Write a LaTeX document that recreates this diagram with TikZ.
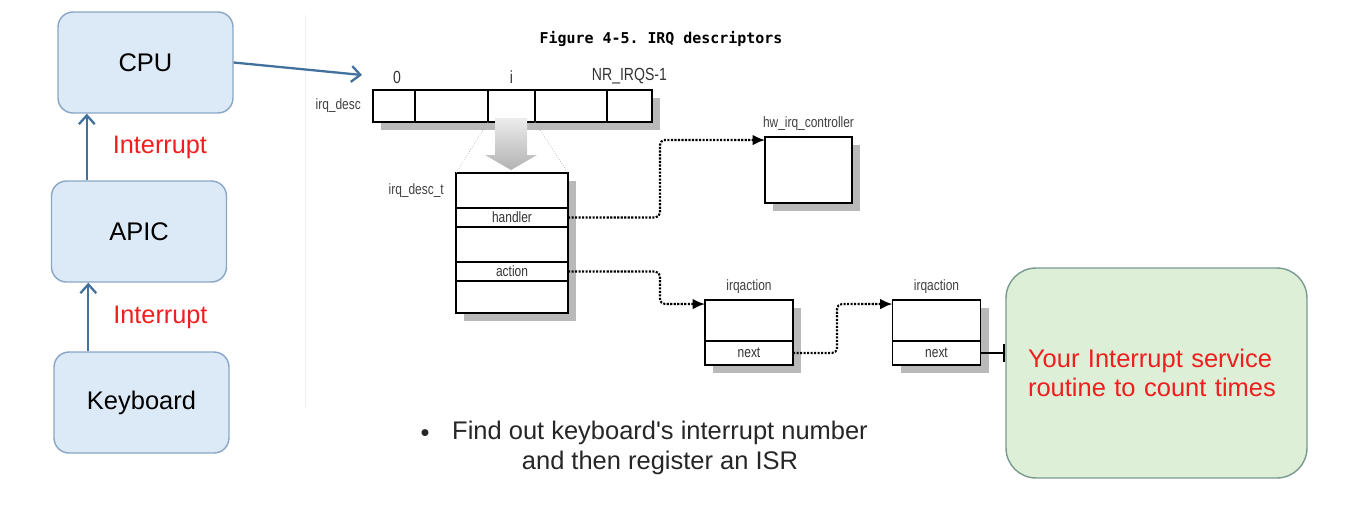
\documentclass[tikz,border=0pt]{standalone}
\usepackage{fontspec}
\setmainfont{Liberation Sans}
\newfontfamily\figfont[FakeStretch=0.8]{Liberation Sans}
\newfontfamily\capfont{DejaVu Sans Mono}
\usetikzlibrary{arrows.meta,backgrounds}
\definecolor{slidefill}{HTML}{DCE9F6}
\definecolor{slideline}{HTML}{8AA6C6}
\definecolor{flowblue}{HTML}{41719C}
\definecolor{irqred}{HTML}{F01E1E}
\definecolor{isrfill}{HTML}{DDEFD6}
\definecolor{isrline}{HTML}{7A9A90}

\begin{document}
\begin{tikzpicture}[x=0.02cm,y=-0.02cm,
    slidebox/.style={draw=slideline,fill=slidefill,rounded corners=0.3cm,line width=0.8pt,
      minimum width=3.5cm,minimum height=2.02cm,font=\fontsize{14.5}{17}\selectfont},
    upflow/.style={flowblue,line width=1.3pt,-{Straight Barb[length=5pt,width=9pt]}},
    irqtext/.style={text=irqred,font=\fontsize{14.4}{17}\selectfont},
    cellbox/.style={draw,fill=white,line width=1pt,minimum height=0.64cm,inner sep=0pt,outer sep=0pt},
    rowbox/.style={draw,fill=white,line width=0.8pt,minimum width=2.24cm,inner sep=0pt,outer sep=0pt,
      font=\figfont\fontsize{8.5}{10}\selectfont,text=black!80},
    figlabel/.style={font=\figfont\fontsize{8.5}{10}\selectfont,text=black!75},
    idxlabel/.style={font=\figfont\fontsize{10}{12}\selectfont,text=black!80},
    dotlink/.style={line width=1.2pt,dash pattern=on 1.2pt off 0.8pt,rounded corners=0.1cm,
      -{Latex[length=7pt,width=6pt]}},
    isrbox/.style={draw=isrline,fill=isrfill,rounded corners=0.6cm,line width=0.8pt,
      minimum width=6.02cm,minimum height=4.2cm,text width=5.14cm,align=left,text=irqred,
      font=\fontsize{14.5}{16.5}\selectfont}]
  \useasboundingbox (0,0) rectangle (1353,505);
  \draw[gray!12] (305,15) -- (305,408);

  \node[slidebox] (cpu) at (145.5,62.5) {CPU};
  \node[slidebox] (apic) at (139,231.5) {APIC};
  \node[slidebox] (kbd) at (141.5,402.5) {Keyboard};
  \draw[upflow] ([xshift=0.72cm]apic.north west) coordinate (up1)
    -- node[right=0.38cm,irqtext] (int1) {Interrupt} (up1 |- cpu.south);
  \draw[upflow] ([xshift=0.70cm]kbd.north west) coordinate (up2)
    -- node[right=0.36cm,irqtext] (int2) {Interrupt} (up2 |- apic.south);
  \coordinate (descin) at (362,75);
  \draw[upflow] (cpu.east) -- (descin);

  \node[font=\capfont\bfseries\fontsize{8.5}{10}\selectfont] (title) at (661,39) {Figure 4-5.~IRQ descriptors};

  \node[cellbox,minimum width=0.84cm] (c0) at (394,106) {};
  \node[cellbox,minimum width=1.46cm,anchor=west] (c1) at (c0.east) {};
  \node[cellbox,minimum width=0.94cm,anchor=west] (ci) at (c1.east) {};
  \node[cellbox,minimum width=1.44cm,anchor=west] (c3) at (ci.east) {};
  \node[cellbox,minimum width=0.90cm,anchor=west] (cn) at (c3.east) {};
  \node[idxlabel,above] (lab0) at ([xshift=0.06cm]c0.north) {0};
  \node[idxlabel,above] (labi) at (ci.north) {i};
  \node[idxlabel,above] (labn) at (cn.north) {NR\_IRQS-1};
  \node[figlabel,left=0.12cm] (desclab) at (c0.west) {irq\_desc};

  \node[rowbox,minimum height=0.70cm] (dtop) at (512,190.5) {};
  \node[rowbox,minimum height=0.38cm,anchor=north] (handler) at (dtop.south) {handler};
  \node[rowbox,minimum height=0.70cm,anchor=north] (dmid) at (handler.south) {};
  \node[rowbox,minimum height=0.38cm,anchor=north] (action) at (dmid.south) {action};
  \node[rowbox,minimum height=0.64cm,anchor=north] (dbot) at (action.south) {};
  \node[figlabel,left=0.12cm] (dtlab) at (dtop.west) {irq\_desc\_t};
  \draw[gray!60,densely dotted] (ci.south west) -- (dtop.north west);
  \draw[gray!60,densely dotted] (ci.south east) -- (dtop.north east);
  \shade[top color=gray!15,bottom color=gray!60]
    (495,118) -- (527,118) -- (527,155) -- (537,155) -- (511,170) -- (485,155) -- (495,155) -- cycle;

  \node[rowbox,minimum width=1.74cm,minimum height=1.32cm] (hwc) at (808.5,170) {};
  \node[figlabel,above] (hwlab) at (hwc.north) {hw\_irq\_controller};

  \node[rowbox,minimum width=1.76cm,minimum height=0.82cm] (act1) at (749,320.5) {};
  \node[rowbox,minimum width=1.76cm,minimum height=0.48cm,anchor=north] (next1) at (act1.south) {next};
  \node[figlabel,above] (actlab1) at (act1.north) {irqaction};
  \node[rowbox,minimum width=1.76cm,minimum height=0.82cm] (act2) at (936.5,320.5) {};
  \node[rowbox,minimum width=1.76cm,minimum height=0.48cm,anchor=north] (next2) at (act2.south) {next};
  \node[figlabel,above] (actlab2) at (act2.north) {irqaction};

  \node[isrbox] (isr) at (1156.5,373) {Your Interrupt service\\routine to count times};

  \draw[dotlink] (handler.east) -- ++(92,0) |- ([yshift=-0.06cm]hwc.north west);
  \draw[dotlink] (action.east) -- ++(92,0) |- ([yshift=-0.08cm]act1.north west);
  \draw[dotlink] (next1.east) -- ++(44,0) |- ([yshift=-0.08cm]act2.north west);
  \draw[line width=0.9pt,-{Bar[width=0.36cm,line width=1.6pt]}] (next2.east) -- (next2.east -| isr.west);

  \begin{scope}[on background layer]
    \fill[gray!55] ([shift={(8,8)}]c0.north west) rectangle ([shift={(8,8)}]cn.south east);
    \fill[gray!55] ([shift={(8,8)}]dtop.north west) rectangle ([shift={(8,8)}]dbot.south east);
    \fill[gray!55] ([shift={(8,8)}]hwc.north west) rectangle ([shift={(8,8)}]hwc.south east);
    \fill[gray!55] ([shift={(8,8)}]act1.north west) rectangle ([shift={(8,8)}]next1.south east);
    \fill[gray!55] ([shift={(8,8)}]act2.north west) rectangle ([shift={(8,8)}]next2.south east);
  \end{scope}

  \node[font=\fontsize{14.5}{17}\selectfont,align=center,text=black!85] (todo) at (660,448)
    {Find out keyboard\textquotesingle s interrupt number\\and then register an ISR};
  \node[font=\fontsize{14.5}{17}\selectfont,anchor=base,text=black!85] (dot) at (425,441) {•};
\end{tikzpicture}
\end{document}
